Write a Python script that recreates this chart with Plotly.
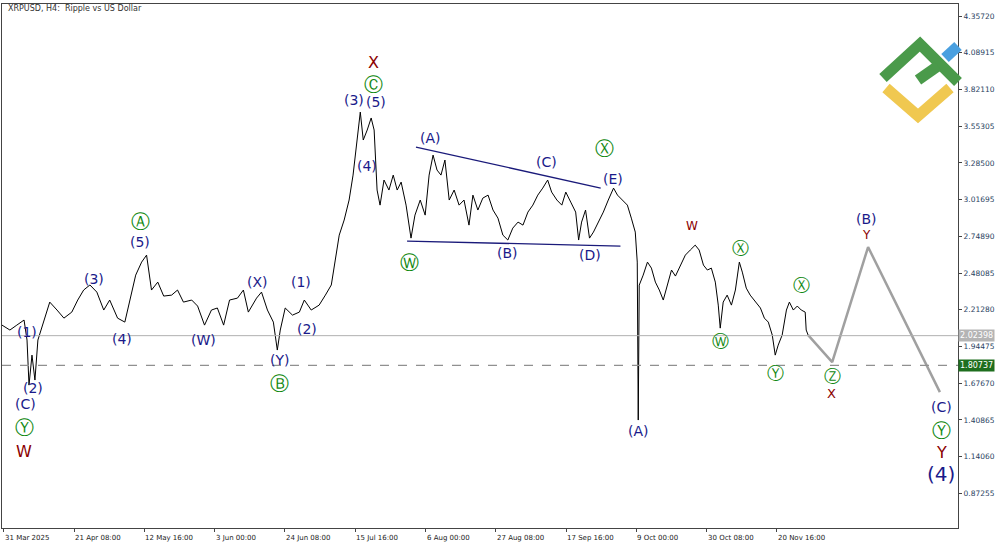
import plotly.graph_objects as go

days = [-0.6,1.8,3.9,6.1,7.0,7.6,8.5,9.4,10.3,12.1,13.9,16.1,18.2,20.6,22.4,24.2,26.1,28.2,30.3,32.1,34.5,36.7,38.2,40.0,41.8,43.3,44.8,46.7,48.5,50.9,52.7,54.5,57.0,58.8,60.9,63.0,64.8,66.7,68.5,70.9,72.7,74.2,76.7,78.2,80.0,81.8,83.0,83.9,85.4,87.6,89.7,91.2,93.3,95.7,97.6,99.4,100.6,101.8,103.3,104.8,106.0,107.3,108.2,109.1,110.3,111.5,112.4,113.3,114.2,115.4,116.9,118.2,119.4,120.6,122.1,123.6,124.8,126.4,127.9,129.1,130.3,131.5,132.7,133.9,135.2,136.7,138.2,139.7,141.2,142.4,143.9,145.4,147.0,148.5,150.0,151.5,153.0,154.5,156.1,157.6,159.1,160.6,162.1,163.6,165.1,166.3,167.9,169.4,170.6,172.1,173.6,174.5,175.4,176.6,177.8,179.0,180.5,182.0,183.5,185.1,186.3,187.8,189.3,190.5,191.7,192.3,192.6,192.9,194.1,195.4,196.6,197.8,199.0,200.2,201.5,202.7,203.9,205.4,206.9,208.4,209.9,211.1,212.4,213.6,214.8,216.0,216.9,217.5,218.4,219.6,220.9,222.1,223.3,224.2,225.4,226.6,228.2,229.7,230.9,232.1,233.3,234.2,235.1,236.3,237.6,238.5,239.7,240.9,242.1,243.3,243.6,244.2]
prices = [2.101,2.065,2.101,2.138,1.992,1.663,1.882,1.700,1.992,2.138,2.269,2.211,2.152,2.196,2.284,2.357,2.394,2.342,2.211,2.284,2.152,2.123,2.284,2.466,2.561,2.612,2.357,2.415,2.313,2.320,2.357,2.269,2.284,2.240,2.101,2.211,2.226,2.101,2.284,2.298,2.357,2.196,2.298,2.342,2.211,2.123,1.919,2.065,2.226,2.174,2.196,2.284,2.211,2.247,2.320,2.394,2.576,2.758,2.868,3.014,3.196,3.452,3.656,3.452,3.525,3.613,3.525,3.087,2.977,3.160,3.087,3.196,3.087,3.145,2.977,2.736,2.904,3.014,2.904,3.196,3.342,3.233,3.196,3.306,3.014,3.087,2.977,3.014,2.831,3.050,2.941,3.028,3.050,2.941,2.882,2.758,2.722,2.809,2.853,2.831,2.926,2.977,3.050,3.101,3.160,3.072,3.014,2.977,3.072,2.999,2.926,2.722,2.853,2.941,2.736,2.780,2.853,2.926,3.014,3.101,3.050,3.014,2.977,2.882,2.780,2.561,1.408,2.393,2.466,2.561,2.517,2.415,2.357,2.284,2.393,2.503,2.459,2.539,2.612,2.649,2.685,2.649,2.539,2.503,2.517,2.415,2.247,2.079,2.269,2.320,2.247,2.357,2.561,2.488,2.371,2.320,2.269,2.226,2.152,2.123,2.028,1.882,1.955,2.028,2.211,2.269,2.211,2.240,2.211,2.196,2.065,2.028]

proj_days = [244.2, 251.5, 262.4, 284.2]
proj_prices = [2.028, 1.831, 2.671, 1.612]
tri_upper_days = [125.1, 181.2]
tri_upper_prices = [3.401, 3.101]
tri_lower_days = [122.4, 187.2]
tri_lower_prices = [2.714, 2.678]
current_price = 2.02398
level_price = 1.80737

ytick_vals = [4.35720,4.08915,3.82110,3.55305,3.28500,3.01695,2.74890,2.48085,2.21280,1.94475,1.67670,1.40865,1.14060,0.87255]
xtick_vals = [0,21.33,42.67,64,85.33,106.67,128,149.33,170.67,192,213.33,234.67]
xtick_text = ["31 Mar 2025","21 Apr 08:00","12 May 16:00","3 Jun 00:00","24 Jun 08:00","15 Jul 16:00","6 Aug 00:00","27 Aug 08:00","17 Sep 16:00","9 Oct 00:00","30 Oct 08:00","20 Nov 16:00"]

W, H = 1000, 545
ML, MR, MT, MB = 2, 42, 4, 17
def P(x, y):
    return (x - ML) / (W - ML - MR), 1 - (y - MT) / (H - MT - MB)

fig = go.Figure()
fig.add_trace(go.Scatter(x=days, y=prices, mode="lines", line=dict(color="black", width=1), hoverinfo="skip"))
fig.add_trace(go.Scatter(x=proj_days, y=proj_prices, mode="lines", line=dict(color="#a0a0a0", width=2.5)))
fig.add_trace(go.Scatter(x=tri_upper_days, y=tri_upper_prices, mode="lines", line=dict(color="#1a1a7a", width=1.3)))
fig.add_trace(go.Scatter(x=tri_lower_days, y=tri_lower_prices, mode="lines", line=dict(color="#1a1a7a", width=1.3)))
fig.add_hline(y=current_price, line=dict(color="#b0b0b0", width=1))
fig.add_hline(y=level_price, line=dict(color="#909090", width=1.2, dash="dash"))

NAVY = "#1a1a8a"; GREEN = "#118811"; RED = "#8b0000"
labels = [
    ("(1)",27,332,NAVY,14),("(2)",33,388,NAVY,14),("(C)",25,404,NAVY,14),("Ⓨ",24,427,GREEN,19),("W",24,451,RED,16),
    ("(3)",94,279,NAVY,14),("(4)",122,339,NAVY,14),("Ⓐ",140,221,GREEN,19),("(5)",140,242,NAVY,14),
    ("(W)",203,340,NAVY,14),("(X)",257,282,NAVY,14),("(1)",301,282,NAVY,14),("(2)",307,329,NAVY,14),
    ("(Y)",279,360,NAVY,14),("Ⓑ",279,383,GREEN,19),("(3)",354,100,NAVY,14),("(5)",376,102,NAVY,14),
    ("Ⓒ",373,84,GREEN,19),("X",373,62,RED,16),("(4)",367,166,NAVY,14),("(A)",430,138,NAVY,14),
    ("Ⓦ",409,262,GREEN,19),("(B)",507,253,NAVY,14),("(C)",546,162,NAVY,14),("(D)",590,255,NAVY,14),
    ("(E)",613,179,NAVY,14),("Ⓧ",604,148,GREEN,19),("(A)",638,431,NAVY,14),("W",692,226,RED,12),
    ("Ⓧ",740,248,GREEN,17),("Ⓦ",720,341,GREEN,17),("Ⓨ",775,373,GREEN,17),("Ⓧ",801,285,GREEN,17),
    ("Ⓩ",832,376,GREEN,17),("X",831,393,RED,13),("(B)",866,219,NAVY,14),("Y",866,235,RED,12),
    ("(C)",941,407,NAVY,14),("Ⓨ",941,430,GREEN,19),("Y",941,452,RED,16),("(4)",941,474,NAVY,20),
]
for t, x, y, c, s in labels:
    px, py = P(x, y)
    fig.add_annotation(x=px, y=py, xref="paper", yref="paper", text=t, showarrow=False,
                       xanchor="center", yanchor="middle",
                       font=dict(color=c, size=s, family="DejaVu Sans"))

fig.add_annotation(x=P(6,0)[0], y=P(0,8)[1], xref="paper", yref="paper", text="XRPUSD, H4:  Ripple vs US Dollar",
                   showarrow=False, xanchor="left", yanchor="middle", font=dict(size=8, color="#333"))
for val, bg in [(current_price, "#b4b4b4"), (level_price, "#1e6e1e")]:
    fig.add_annotation(x=1.0, y=val, xref="paper", yref="y", text=f"{val:.5f}", showarrow=False,
                       xanchor="left", yanchor="middle", bgcolor=bg, font=dict(size=8, color="white"), borderpad=1)
for v, t in zip(xtick_vals, xtick_text):
    fig.add_annotation(x=v, y=0, xref="x", yref="paper", yshift=-4, text=t, showarrow=False,
                       xanchor="left", yanchor="top", xshift=-1, font=dict(size=7, color="#222"))

def seg(pts, color, w):
    path = "M " + " L ".join(f"{P(x,y)[0]},{P(x,y)[1]}" for x, y in pts)
    fig.add_shape(type="path", path=path, xref="paper", yref="paper", line=dict(color=color, width=w))
seg([(883,78),(920,44),(958,82)], "#4a9a4a", 11)
seg([(918,80),(938,66)], "#4a9a4a", 11)
seg([(945,58),(958,46)], "#4aa0e0", 11)
seg([(886,88),(918,116),(950,88)], "#f0c850", 11)

fig.update_layout(width=W, height=H, margin=dict(l=ML, r=MR, t=MT, b=MB, autoexpand=False), plot_bgcolor="white",
                  paper_bgcolor="white", showlegend=False, font=dict(family="DejaVu Sans"))
fig.update_xaxes(range=[-0.6, 289.7], tickvals=xtick_vals, ticktext=[""] * len(xtick_vals), ticks="outside", ticklen=3,
                 showgrid=False, zeroline=False, showline=True, linecolor="#444", mirror=True)
fig.update_yaxes(range=[0.62, 4.445], side="right", tickvals=ytick_vals, ticktext=[f"{v:.5f}" for v in ytick_vals],
                 ticks="outside", ticklen=3, tickfont=dict(size=7.5), showgrid=False, zeroline=False,
                 showline=True, linecolor="#444", mirror=True)
fig.write_html("out.html", config={"displayModeBar": False},
               post_script="document.body.style.margin='0';document.body.style.overflow='hidden';")
